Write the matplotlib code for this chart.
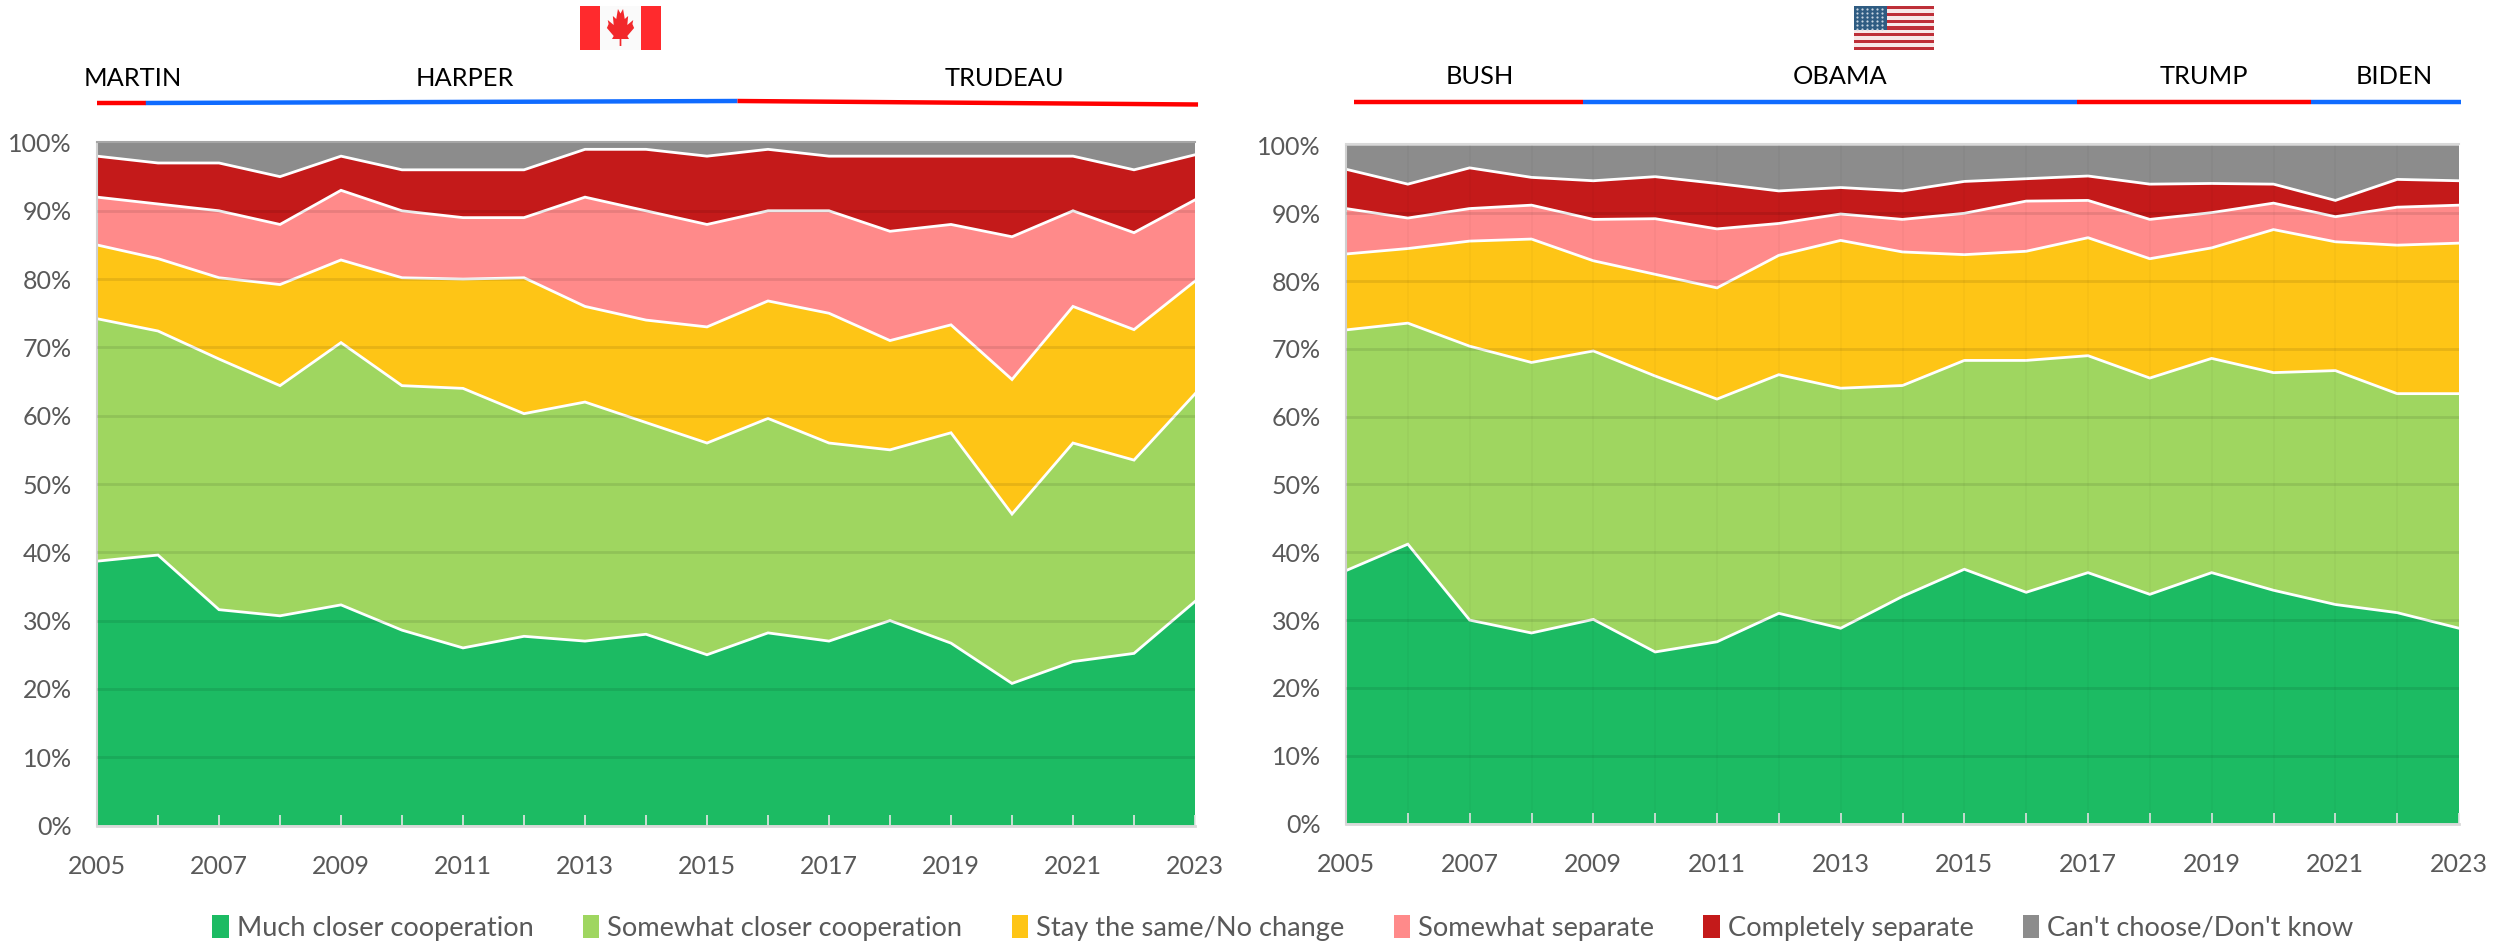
import numpy as np
import matplotlib
matplotlib.use("Agg")
import matplotlib.pyplot as plt
from matplotlib.patches import Rectangle, Polygon
from matplotlib.transforms import blended_transform_factory as blend

plt.rcParams['font.family'] = ['Lato', 'DejaVu Sans']

years = list(range(2005, 2024))
series_names = ["Much closer cooperation", "Somewhat closer cooperation", "Stay the same/No change",
                "Somewhat separate", "Completely separate", "Can't choose/Don't know"]
series_colors = ["#1CBB63", "#9FD660", "#FEC516", "#FF8A8A", "#C41A1A", "#8C8C8C"]

ca_much = [38.7, 39.6, 31.6, 30.7, 32.3, 28.6, 26.0, 27.7, 27.0, 28.0, 25.0, 28.2, 27.0, 30.0, 26.7, 20.8, 24.0, 25.2, 32.8]
ca_closer = [35.5, 32.8, 36.7, 33.7, 38.4, 35.8, 38.0, 32.6, 35.0, 31.0, 31.0, 31.4, 29.0, 25.0, 30.8, 24.8, 32.0, 28.3, 30.4]
ca_same = [10.8, 10.6, 11.9, 14.8, 12.1, 15.8, 16.0, 19.9, 14.0, 15.0, 17.0, 17.2, 19.0, 16.0, 15.8, 19.7, 20.0, 19.1, 16.5]
ca_some_sep = [7.0, 8.0, 9.8, 8.8, 10.2, 9.8, 9.0, 8.8, 16.0, 16.0, 15.0, 13.2, 15.0, 16.0, 14.7, 20.9, 14.0, 14.2, 11.9]
ca_comp_sep = [6.0, 6.0, 7.0, 7.0, 5.0, 6.0, 7.0, 7.0, 7.0, 9.0, 10.0, 9.0, 8.0, 11.0, 10.0, 11.8, 8.0, 9.2, 6.6]
ca_dk = [2.0, 3.0, 3.0, 5.0, 2.0, 4.0, 4.0, 4.0, 1.0, 1.0, 2.0, 1.0, 2.0, 2.0, 2.0, 2.0, 2.0, 4.0, 1.8]

us_much = [37.3, 41.2, 30.0, 28.1, 30.1, 25.3, 26.8, 31.0, 28.8, 33.5, 37.5, 34.1, 37.0, 33.8, 37.0, 34.4, 32.3, 31.1, 28.8]
us_closer = [35.5, 32.6, 40.4, 39.9, 39.6, 40.7, 35.8, 35.2, 35.4, 31.1, 30.8, 34.2, 32.0, 31.9, 31.6, 32.1, 34.5, 32.3, 34.6]
us_same = [11.2, 11.0, 15.5, 18.2, 13.3, 15.0, 16.4, 17.6, 21.8, 19.7, 15.6, 16.1, 17.4, 17.6, 16.3, 21.1, 19.0, 21.9, 22.2]
us_some_sep = [6.7, 4.5, 4.8, 5.0, 6.1, 8.2, 8.7, 4.7, 3.9, 4.8, 6.1, 7.4, 5.5, 5.8, 5.2, 3.9, 3.7, 5.6, 5.6]
us_comp_sep = [5.8, 5.0, 6.0, 4.1, 5.7, 6.2, 6.7, 4.8, 3.9, 4.2, 4.7, 3.3, 3.6, 5.2, 4.3, 2.8, 2.4, 4.1, 3.6]
us_dk = [3.5, 5.7, 3.3, 4.7, 5.2, 4.6, 5.6, 6.7, 6.2, 6.7, 5.3, 4.9, 4.5, 5.7, 5.6, 5.7, 8.1, 5.0, 5.2]

ca_leaders = ["MARTIN", "HARPER", "TRUDEAU"]
ca_term_edges = [2005.0, 2005.8, 2015.5, 2023.05]
ca_term_colors = ["#FF0000", "#0F6BFF", "#FF0000"]
us_leaders = ["BUSH", "OBAMA", "TRUMP", "BIDEN"]
us_term_edges = [2005.13, 2008.83, 2016.82, 2020.6, 2023.03]
us_term_colors = ["#FF0000", "#0F6BFF", "#FF0000", "#0F6BFF"]

W, H = 2498, 943
fig = plt.figure(figsize=(W / 100, H / 100), dpi=100)
TXT = "#595959"


def make_axes(l, r, top, bottom):
    return fig.add_axes([l / W, 1 - bottom / H, (r - l) / W, (bottom - top) / H])


ax1 = make_axes(97, 1195, 142.5, 825.5)
ax2 = make_axes(1346, 2459, 145.5, 823.5)
over = fig.add_axes([0, 0, 1, 1], zorder=5)
over.set_xlim(0, W)
over.set_ylim(H, 0)
over.axis("off")
over.patch.set_alpha(0)


def panel(ax, data, vgrid):
    ax.stackplot(years, *data, colors=series_colors, linewidth=0, zorder=1)
    tops = np.cumsum(np.array(data), axis=0)
    for row in tops[:-1]:
        ax.plot(years, row, color="white", lw=2.0, zorder=2, solid_joinstyle="miter")
    ax.set_xlim(2005, 2023)
    ax.set_ylim(0, 100)
    for y in range(10, 100, 10):
        ax.axhline(y, color="black", alpha=0.09, lw=2, zorder=3)
    if vgrid:
        for x in years[1:-1]:
            ax.axvline(x, color="black", alpha=0.025, lw=1.5, zorder=3)
    ax.set_yticks(range(0, 101, 10))
    ax.set_yticklabels([f"{v}%" for v in range(0, 101, 10)], fontsize=18, color=TXT)
    ax.set_xticks(years)
    ax.set_xticklabels([str(y) if (y - 2005) % 2 == 0 else "" for y in years], fontsize=18, color=TXT)
    ax.tick_params(axis="x", direction="in", length=8, width=1.2, color="#E6E6E6", pad=21)
    ax.tick_params(axis="y", length=0, pad=18)
    for s in ("top", "right"):
        ax.spines[s].set_visible(False)
    ax.spines["left"].set_color("#D0D0D0")
    ax.spines["left"].set_linewidth(1.5)
    ax.spines["bottom"].set_color("#D9D9D9")
    ax.spines["bottom"].set_linewidth(2)
    for lab in ax.get_xticklabels() + ax.get_yticklabels():
        lab.set_zorder(6)


panel(ax1, [ca_much, ca_closer, ca_same, ca_some_sep, ca_comp_sep, ca_dk], False)
panel(ax2, [us_much, us_closer, us_same, us_some_sep, us_comp_sep, us_dk], True)

# light line just above the US area, as in the reference
over.plot([1346, 2459], [143.7, 143.7], color="#D9D9D9", lw=1.5)
over.plot([97, 1195], [142, 142], color="#A6A6A6", lw=1.5)


def terms(ax, edges, colors, ys):
    tr = blend(ax.transData, over.transData)
    for i, c in enumerate(colors):
        ax.plot(edges[i:i + 2], ys[i:i + 2], color=c, lw=3.2, transform=tr, clip_on=False,
                solid_capstyle="butt", zorder=7)


terms(ax1, ca_term_edges, ca_term_colors, [103, 103, 101, 104.5])
terms(ax2, us_term_edges, us_term_colors, [101.5, 101.5, 101.5, 101.5, 101.5])

for name, x in zip(ca_leaders, [133, 465, 1004]):
    over.text(x, 78, name, ha="center", va="center", fontsize=18.3, color="black")
for name, x in zip(us_leaders, [1480, 1840, 2204, 2394]):
    over.text(x, 77, name, ha="center", va="center", fontsize=18.3, color="black")

# Canadian flag
over.add_patch(Rectangle((580, 6), 81, 44, color="#FAFAFA", lw=0))
over.add_patch(Rectangle((580, 6), 20, 44, color="#FF2A2D", lw=0))
over.add_patch(Rectangle((641, 6), 20, 44, color="#FF2A2D", lw=0))
leaf = np.array([(0, -9.5), (3, -14), (5, -4), (9, -7), (8, 2), (15, -3), (14, 1), (16, 5), (8, 13), (10, 16), (1, 16),
                 (1, 23), (-1, 23), (-1, 16), (-10, 16), (-8, 13), (-16, 5), (-14, 1), (-15, -3), (-8, 2), (-9, -7),
                 (-5, -4), (-3, -14)], dtype=float)
leaf[:, 0] = leaf[:, 0] * 0.85 + 620.5
leaf[:, 1] = leaf[:, 1] + 23
over.add_patch(Polygon(leaf, closed=True, color="#F2282B", lw=0))

# United States flag
over.add_patch(Rectangle((1854, 6), 80, 44, color="#F7E8E8", lw=0))
for i in range(0, 13, 2):
    over.add_patch(Rectangle((1854, 6 + i * 44 / 13), 80, 44 / 13, color="#BE2F38", lw=0))
over.add_patch(Rectangle((1854, 6), 33.5, 23.5, color="#2F5C82", lw=0))
sx, sy = np.meshgrid(np.arange(1857, 1886, 5), np.arange(8.5, 29, 4))
over.scatter(sx.ravel(), sy.ravel(), s=2.5, color="#C9D6E2", lw=0)

handles = [Rectangle((0, 0), 1, 1, color=c, lw=0) for c in series_colors]
fig.legend(handles, series_names, ncol=6, loc="center", bbox_to_anchor=(1283 / W, 1 - 928 / H),
           frameon=False, fontsize=19.6, labelcolor=TXT, handlelength=0.6, handleheight=0.9,
           handletextpad=0.3, columnspacing=1.81, borderpad=0, borderaxespad=0)

fig.savefig("out.png", dpi=100)
